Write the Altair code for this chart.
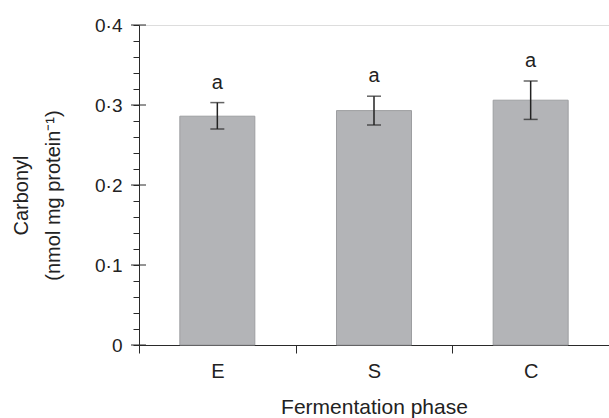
import altair as alt
import pandas as pd

phases = ["E", "S", "C"]
means = [0.286, 0.293, 0.306]
lower = [0.270, 0.275, 0.282]
upper = [0.303, 0.311, 0.330]
letters = ["a", "a", "a"]
major_ticks = [0.0, 0.1, 0.2, 0.3, 0.4]
minor_ticks = [0.0, 0.02, 0.04, 0.06, 0.08, 0.1, 0.12, 0.14, 0.16, 0.18, 0.2,
               0.22, 0.24, 0.26, 0.28, 0.3, 0.32, 0.34, 0.36, 0.38, 0.4]

df = pd.DataFrame({"phase": phases, "mean": means, "lower": lower,
                   "upper": upper, "letter": letters})
df_major = pd.DataFrame({"v": major_ticks})

FONT = "Liberation Sans"
AX = "#2a2a2a"

x_axis = alt.Axis(title="Fermentation phase", labelAngle=0, tickBand="extent",
                  tickSize=8, labelFontSize=20, titleFontSize=21,
                  labelFont=FONT, titleFont=FONT, labelColor="#222",
                  titleColor="#222", titleFontWeight="normal",
                  domainColor=AX, tickColor=AX, labelPadding=24,
                  labelBaseline="alphabetic", titleBaseline="alphabetic",
                  titleY=68)
x_enc = alt.X("phase:N", sort=phases,
              scale=alt.Scale(domain=phases, paddingInner=0, paddingOuter=0),
              axis=x_axis)

y_axis = alt.Axis(title=["Carbonyl", "(nmol mg protein⁻¹)"], values=minor_ticks,
                  tickSize=6, labelFontSize=19, titleFontSize=20,
                  labelFont=FONT, titleFont=FONT, labelColor="#222",
                  titleColor="#222", titleFontWeight="normal",
                  domainColor=AX, tickColor=AX, labelPadding=11, grid=False,
                  titleLineHeight=32, titleBaseline="bottom", titleX=-108,
                  titleY=170,
                  labelExpr="abs(datum.value*10 - round(datum.value*10)) < 0.000001 ? (datum.value == 0 ? '0' : replace(format(datum.value, '.1f'), '.', '·')) : ''")
y_scale = alt.Scale(domain=[0, 0.4], nice=False)

base = alt.Chart(df)

bars = base.mark_bar(size=75, color="#b3b4b7", stroke="#9d9ea1", strokeWidth=1).encode(
    x=x_enc, y=alt.Y("mean:Q", scale=y_scale, axis=y_axis))

rules = base.mark_rule(color="#222", strokeWidth=1.5).encode(
    x=x_enc, y=alt.Y("lower:Q", scale=y_scale, axis=y_axis), y2="upper:Q")

cap_hi = base.mark_tick(size=14, thickness=1.5, color="#222", orient="horizontal").encode(
    x=x_enc, y=alt.Y("upper:Q", scale=y_scale, axis=y_axis))
cap_lo = base.mark_tick(size=14, thickness=1.5, color="#222", orient="horizontal").encode(
    x=x_enc, y=alt.Y("lower:Q", scale=y_scale, axis=y_axis))

text = base.mark_text(dy=-14, baseline="alphabetic", fontSize=20, font=FONT,
                      color="#222").encode(
    x=x_enc, y=alt.Y("upper:Q", scale=y_scale, axis=y_axis), text="letter:N")

majors = alt.Chart(df_major).mark_rule(color=AX, strokeWidth=1).encode(
    y=alt.Y("v:Q", scale=y_scale, axis=y_axis),
    x=alt.value(-8), x2=alt.value(7))

chart = alt.layer(bars, rules, cap_hi, cap_lo, text, majors).properties(
    width=470, height=320,
    autosize=alt.AutoSizeParams(type="none"),
    padding={"left": 139, "top": 25, "right": 0, "bottom": 73},
).configure_view(stroke=None).configure(background="white")

chart.save("out.html", embed_options={"renderer": "svg", "actions": False})
